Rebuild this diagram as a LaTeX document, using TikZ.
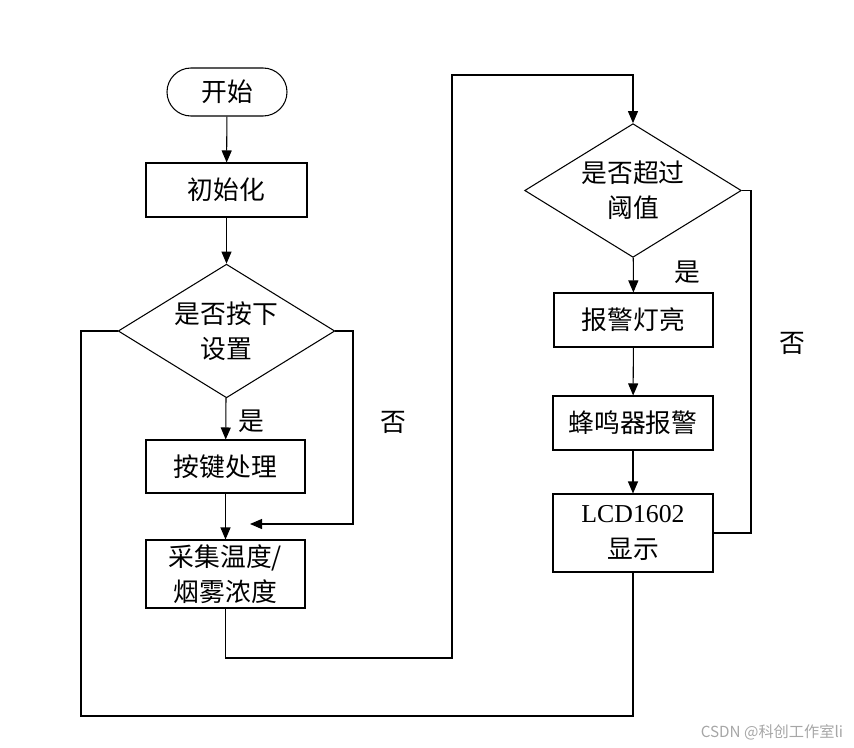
\documentclass[tikz,border=0pt]{standalone}
\usepackage{fontspec}
\setmainfont{Liberation Serif}
\newfontfamily\cjk{Noto Sans CJK SC}
\usetikzlibrary{shapes.geometric,shapes.misc,arrows.meta}
\begin{document}
\begin{tikzpicture}[x=0.03cm,y=-0.03cm,line width=0.9pt,
  every node/.style={font=\cjk\fontsize{22}{30}\selectfont},
  box/.style={draw,rectangle,inner sep=0pt,align=center},
  term/.style={draw,rounded rectangle,inner sep=0pt,minimum width=3.6cm,minimum height=1.44cm},
  dia/.style={draw,diamond,inner sep=0pt,aspect=1.62,align=center,minimum width=6.5cm,minimum height=4.01cm},
  arr/.style={-{Triangle[length=0.36cm,width=0.3cm]}},
  wm/.style={text=black!35,font=\cjk\fontsize{13}{15}\selectfont}]
\useasboundingbox (0,0) rectangle (854,748);
\node[term] (start) at (227,92) {开始};
\node[box,minimum width=4.83cm,minimum height=1.62cm] (init) at (226.5,190) {初始化};
\node[dia] (d1) at (226.5,331) {是否按下\\设置};
\node[box,minimum width=4.77cm,minimum height=1.59cm] (key) at (225.5,466.5) {按键处理};
\node[box,minimum width=4.77cm,minimum height=2.04cm] (collect) at (225.5,574) {采集温度/\\烟雾浓度};
\node[dia] (d2) at (633,190.5) {是否超过\\阈值};
\node[box,minimum width=4.77cm,minimum height=1.62cm] (alarm) at (633.5,320) {报警灯亮};
\node[box,minimum width=4.8cm,minimum height=1.62cm] (buzz) at (633,423) {蜂鸣器报警};
\node[box,minimum width=4.8cm,minimum height=2.34cm] (lcd) at (633,533) {{\rmfamily LCD1602}\\显示};
\node (yes1) at (251,421) {是};
\node (no1) at (393,422) {否};
\node (yes2) at (687,272) {是};
\node (no2) at (792,343) {否};
\node[wm] (mark) at (772,732) {CSDN @科创工作室li};
\coordinate (r1) at (353,331);
\coordinate (tipA) at (250,524);
\coordinate (c1) at (452,658);
\coordinate (c2) at (452,75);
\coordinate (c3) at (751,190.5);
\coordinate (c4) at (81,331);
\coordinate (c5) at (633,716);
\draw[arr] (start) -- (init);
\draw[arr] (init) -- (d1);
\draw[arr] (d1) -- (key);
\draw[arr] (key) -- (collect);
\draw[arr] (d1.east) -- (r1) |- (tipA);
\draw[arr] (collect.south) |- (c1) -- (c2) -| (d2.north);
\draw[arr] (d2) -- (alarm);
\draw[arr] (alarm) -- (buzz);
\draw[arr] (buzz) -- (lcd);
\draw (d2.east) -- (c3) |- (lcd.east);
\draw (d1.west) -- (c4) |- (c5) -- (lcd.south);
\end{tikzpicture}
\end{document}
